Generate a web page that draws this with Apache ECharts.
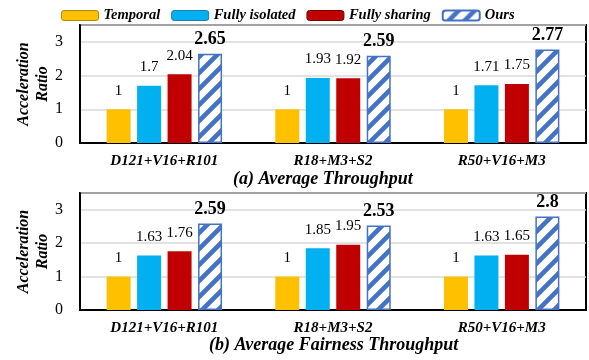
<!DOCTYPE html>
<html><head><meta charset="utf-8">
<script src="https://cdn.jsdelivr.net/npm/echarts@6/dist/echarts.min.js"></script>
<style>html,body{margin:0;padding:0;background:#fff}#c{width:589px;height:360px}</style>
</head><body><div id="c"></div>
<script>
var categories = ['D121+V16+R101', 'R18+M3+S2', 'R50+V16+M3'];
var seriesNames = ['Temporal', 'Fully isolated', 'Fully sharing', 'Ours'];
var throughputTemporal = [1, 1, 1];
var throughputIsolated = [1.7, 1.93, 1.71];
var throughputSharing = [2.04, 1.92, 1.75];
var throughputOurs = [2.65, 2.59, 2.77];
var fairTemporal = [1, 1, 1];
var fairIsolated = [1.63, 1.85, 1.63];
var fairSharing = [1.76, 1.95, 1.65];
var fairOurs = [2.59, 2.53, 2.8];
var yTicks = [0, 1, 2, 3];
var titles = ['(a) Average Throughput', '(b) Average Fairness Throughput'];

var FONT = '"Liberation Serif","Times New Roman",serif';
function hatch() {
  var s = 16, c = document.createElement('canvas');
  c.width = s; c.height = s;
  var g = c.getContext('2d');
  g.fillStyle = '#fff'; g.fillRect(0, 0, s, s);
  g.strokeStyle = '#4472C4'; g.lineWidth = 4.6;
  g.beginPath();
  g.moveTo(-1, s + 1); g.lineTo(s + 1, -1);
  g.moveTo(-4, 4); g.lineTo(4, -4);
  g.moveTo(s - 4, s + 4); g.lineTo(s + 4, s - 4);
  g.stroke();
  return {image: c, repeat: 'repeat'};
}
var pat = hatch();
var colors = ['#FFC000', '#00B0F0', '#C00000'];
var borders = ['#B08A10', '#1F7FA8', '#7A0000'];

function mkSeries(data, idx, axisIdx) {
  var isOurs = idx === 3;
  return {
    type: 'bar', name: seriesNames[idx], xAxisIndex: axisIdx, yAxisIndex: axisIdx,
    data: data, barWidth: 24, barGap: '27%',
    itemStyle: isOurs ? {color: pat, borderColor: '#4472C4', borderWidth: 1.5} : {color: colors[idx]},
    label: {
      show: true, position: 'top', distance: isOurs ? 5 : 11,
      fontFamily: FONT, color: '#000',
      fontSize: isOurs ? 18 : 15, fontWeight: isOurs ? 'bold' : 'normal'
    },
    emphasis: {disabled: true}
  };
}

var grids = [
  {left: 80, right: 3, top: 25, height: 118, show: true, borderColor: '#000', borderWidth: 2, containLabel: false},
  {left: 80, right: 3, top: 193, height: 117, show: true, borderColor: '#000', borderWidth: 2, containLabel: false}
];
function xAx(i) {
  return {
    type: 'category', gridIndex: i, data: categories,
    axisLine: {lineStyle: {color: '#000', width: 2}}, axisTick: {show: false},
    axisLabel: {fontFamily: FONT, fontSize: 15, fontWeight: 'bold', fontStyle: 'italic', color: '#000', margin: 11}
  };
}
function yAx(i) {
  return {
    type: 'value', gridIndex: i, min: 0, max: 3.5, interval: 1,
    name: 'Acceleration\nRatio', nameLocation: 'middle', nameRotate: 90, nameGap: 28,
    nameMoveOverlap: false,
    nameTextStyle: {fontFamily: FONT, fontSize: 16, fontWeight: 'bold', fontStyle: 'italic', color: '#000', lineHeight: 19},
    axisLine: {show: true, lineStyle: {color: '#000', width: 2}}, axisTick: {show: false},
    axisLabel: {fontFamily: FONT, fontSize: 16, color: '#000', margin: 17,
      formatter: function (v) { return yTicks.indexOf(v) >= 0 ? String(v) : ''; }},
    splitLine: {lineStyle: {color: '#D9D9D9', width: 1.5}}
  };
}

var chart = echarts.init(document.getElementById('c'), null, {renderer: 'canvas'});
chart.setOption({
  animation: false,
  legend: {
    data: seriesNames.map(function (n, i) {
      return i < 3 ? {name: n, itemStyle: {borderColor: borders[i], borderWidth: 1}} : {name: n};
    }),
    top: 3, left: 56, itemWidth: 37, itemHeight: 10, itemGap: 11,
    textStyle: {fontFamily: FONT, fontSize: 14.5, fontWeight: 'bold', fontStyle: 'italic', color: '#000'}
  },
  grid: grids,
  xAxis: [xAx(0), xAx(1)],
  yAxis: [yAx(0), yAx(1)],
  graphic: [
    {type: 'text', left: 233, top: 170, style: {text: titles[0], font: 'italic bold 18px ' + FONT, fill: '#000'}},
    {type: 'text', left: 209, top: 336, style: {text: titles[1], font: 'italic bold 18px ' + FONT, fill: '#000'}}
  ],
  series: [
    mkSeries(throughputTemporal, 0, 0), mkSeries(throughputIsolated, 1, 0),
    mkSeries(throughputSharing, 2, 0), mkSeries(throughputOurs, 3, 0),
    mkSeries(fairTemporal, 0, 1), mkSeries(fairIsolated, 1, 1),
    mkSeries(fairSharing, 2, 1), mkSeries(fairOurs, 3, 1)
  ]
});
</script></body></html>
